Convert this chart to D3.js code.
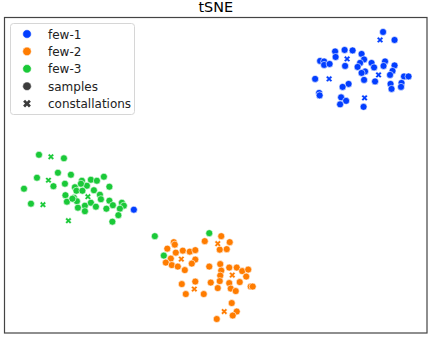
<!DOCTYPE html>
<html>
<head>
<meta charset="utf-8">
<script src="https://cdn.jsdelivr.net/npm/d3@7"></script>
<style>
  body { margin: 0; background: #fff; }
  svg { display: block; font-family: "DejaVu Sans", sans-serif; }
</style>
</head>
<body>
<div id="chart"></div>
<script>
// tSNE embedding ([x, y])
var few1Samples = [
  [33.6, 28.7], [35.9, 27.1], [24.0, 24.8], [25.9, 25.1], [27.5, 25.0], [29.3, 24.3],
  [24.1, 23.7], [21.0, 22.9], [21.8, 22.8], [21.8, 22.1], [22.9, 22.3], [29.8, 23.2],
  [29.0, 22.5], [31.3, 22.5], [34.0, 22.8], [33.7, 21.9], [31.8, 21.6], [26.0, 21.9],
  [28.5, 21.7], [35.9, 22.0], [30.0, 20.8], [29.3, 20.5], [35.5, 20.9], [35.0, 20.1],
  [37.8, 19.8], [38.7, 19.8], [20.0, 19.3], [29.8, 19.1], [32.0, 18.8], [35.1, 18.3],
  [37.3, 18.5], [37.2, 17.7], [26.7, 18.3], [25.5, 17.7], [35.3, 17.3], [20.8, 16.5],
  [20.9, 16.0], [25.2, 15.6], [26.2, 14.9], [25.0, 14.2], [29.7, 13.7], [-16.3, -6.9]
];
var few1Const = [[33.0, 27.1], [26.4, 23.3], [32.7, 20.1], [22.8, 19.3], [29.9, 15.5]];

var few2Samples = [
  [-8.3, -13.4], [-8.1, -13.9], [-9.6, -14.7], [-7.9, -15.5], [-6.5, -15.1], [-5.1, -15.3],
  [-4.0, -15.0], [-8.9, -16.7], [-4.0, -16.9], [-9.9, -17.5], [-8.7, -18.0], [-7.5, -18.3],
  [-6.1, -19.0], [-4.7, -17.7], [1.2, -12.2], [-2.1, -13.2], [2.9, -13.4], [0.9, -14.9],
  [2.3, -14.8], [-1.2, -18.3], [1.0, -17.8], [1.2, -19.1], [2.8, -18.5], [4.3, -18.5],
  [5.4, -19.2], [6.6, -18.9], [1.0, -20.1], [0.9, -21.2], [6.2, -20.3], [4.9, -21.4],
  [-0.9, -21.5], [2.8, -21.6], [3.1, -22.7], [4.1, -23.2], [0.5, -22.6], [7.1, -22.3],
  [7.5, -22.3], [-6.7, -21.8], [-4.0, -21.3], [-5.9, -23.8], [-2.3, -23.8], [3.3, -25.6],
  [4.3, -27.3], [3.5, -28.1], [0.3, -28.8]
];
var few2Const = [[-6.8, -16.8], [0.5, -13.7], [3.4, -20.0], [-4.2, -22.8], [1.8, -27.3]];

var few3Samples = [
  [-35.3, 4.1], [-30.3, 3.4], [-31.5, 0.5], [-28.9, 0.1], [-35.7, -0.5], [-32.4, -2.2],
  [-30.1, -1.7], [-38.3, -2.7], [-28.1, -2.4], [-26.7, -1.1], [-24.9, -0.9], [-23.7, -1.1],
  [-22.3, -0.3], [-25.7, -2.1], [-26.9, -1.7], [-27.8, -3.1], [-30.0, -4.0], [-28.3, -4.5],
  [-24.3, -3.0], [-23.1, -3.9], [-22.9, -4.8], [-21.2, -2.3], [-29.7, -5.3], [-27.7, -5.2],
  [-26.1, -6.1], [-24.9, -5.5], [-23.9, -6.3], [-21.2, -5.1], [-27.5, -6.5], [-26.1, -7.2],
  [-21.8, -6.7], [-20.5, -6.0], [-18.7, -5.5], [-18.3, -6.1], [-19.1, -6.7], [-19.4, -8.0],
  [-20.6, -9.3], [-36.9, -5.7], [-28.6, -4.7], [-26.6, -3.1],
  [-12.1, -12.2], [-10.3, -16.1], [-1.2, -11.6]
];
var few3Const = [[-32.9, 3.7], [-33.4, -1.0], [-34.5, -5.9], [-25.5, -4.3], [-29.4, -9.1]];

var classNames = ["few-1", "few-2", "few-3"];
var classColors = ["#023eff", "#ff7c00", "#1ac938"];
var styleNames = ["samples", "constallations"];

var width = 428, height = 338;
var margin = {top: 17.5, right: 1, bottom: 5, left: 4.5};

var svg = d3.select("#chart").append("svg")
  .attr("width", width)
  .attr("height", height);

var x = d3.scaleLinear().domain([-42.2, 42.4]).range([margin.left, width - margin.right]);
var y = d3.scaleLinear().domain([-31.6, 31.6]).range([height - margin.bottom, margin.top]);

// title
svg.append("text")
  .attr("x", (margin.left + width - margin.right) / 2)
  .attr("y", 11.5)
  .attr("text-anchor", "middle")
  .style("font-size", "14.4px")
  .text("tSNE");

var groups = [
  {name: "few-1", samples: few1Samples, consts: few1Const},
  {name: "few-2", samples: few2Samples, consts: few2Const},
  {name: "few-3", samples: few3Samples, consts: few3Const}
];
var color = d3.scaleOrdinal().domain(classNames).range(classColors);
var cross = d3.symbol().type(d3.symbolCross).size(24);

groups.forEach(function(g) {
  svg.append("g").selectAll("circle")
    .data(g.samples)
    .join("circle")
      .attr("cx", function(d) { return x(d[0]); })
      .attr("cy", function(d) { return y(d[1]); })
      .attr("r", 3.5)
      .attr("fill", color(g.name))
      .attr("stroke", "#fff")
      .attr("stroke-width", 0.6);
  svg.append("g").selectAll("path")
    .data(g.consts)
    .join("path")
      .attr("d", cross)
      .attr("transform", function(d) { return "translate(" + x(d[0]) + "," + y(d[1]) + ") rotate(45)"; })
      .attr("fill", color(g.name))
      .attr("stroke", "#fff")
      .attr("stroke-width", 0.4);
});

// frame
svg.append("rect")
  .attr("x", margin.left)
  .attr("y", margin.top)
  .attr("width", width - margin.left - margin.right)
  .attr("height", height - margin.top - margin.bottom)
  .attr("fill", "none")
  .attr("stroke", "#444")
  .attr("stroke-width", 1.2);

// legend
var legend = svg.append("g").attr("transform", "translate(10.5,23.5)");
legend.append("rect")
  .attr("width", 124)
  .attr("height", 91)
  .attr("rx", 3)
  .attr("fill", "#fff")
  .attr("fill-opacity", 0.8)
  .attr("stroke", "#d6d6d6")
  .attr("stroke-width", 1);

var items = classNames.map(function(n) { return {label: n, kind: "dot", color: color(n)}; })
  .concat([{label: styleNames[0], kind: "dot", color: "#3c3c3c"},
           {label: styleNames[1], kind: "x", color: "#3c3c3c"}]);

var row = legend.selectAll("g.item")
  .data(items)
  .join("g")
    .attr("class", "item")
    .attr("transform", function(d, i) { return "translate(16.5," + (10.5 + i * 17.4) + ")"; });

row.filter(function(d) { return d.kind === "dot"; })
  .append("circle")
    .attr("r", 4.3)
    .attr("fill", function(d) { return d.color; })
    .attr("stroke", "#fff")
    .attr("stroke-width", 0.6);
row.filter(function(d) { return d.kind === "x"; })
  .append("path")
    .attr("d", d3.symbol().type(d3.symbolCross).size(38))
    .attr("transform", "rotate(45)")
    .attr("fill", function(d) { return d.color; });

row.append("text")
  .attr("x", 21)
  .attr("y", 4.5)
  .style("font-size", "12px")
  .attr("fill", "#222")
  .text(function(d) { return d.label; });
</script>
</body>
</html>
